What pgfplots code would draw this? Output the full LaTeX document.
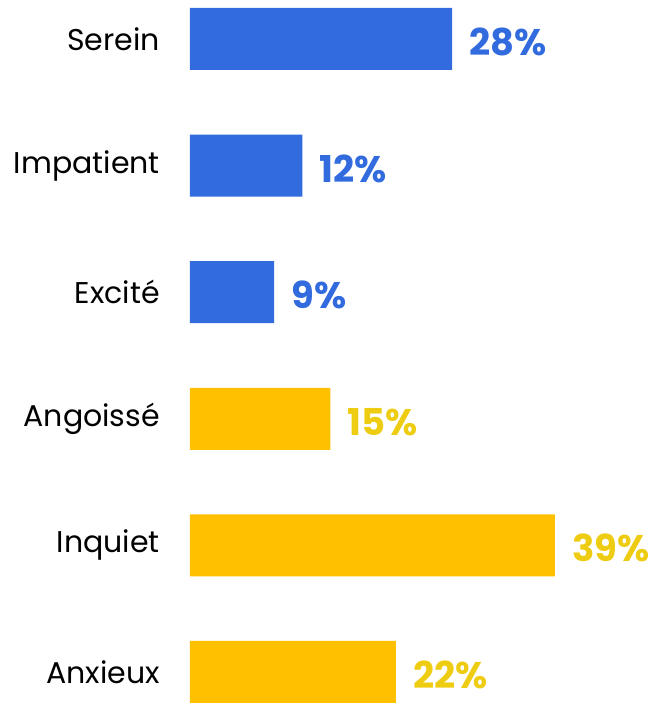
\documentclass[border=0pt]{standalone}
\usepackage{pgfplots}
\pgfplotsset{compat=1.18}
\usepackage{fontspec}
\setmainfont{Poppins}
\definecolor{calmblue}{HTML}{316BDD}
\definecolor{worrybar}{HTML}{FFC000}
\definecolor{worrytext}{HTML}{EECC11}
\begin{document}
\begin{tikzpicture}
\begin{axis}[
    at={(0,0)}, anchor=south west,
    scale only axis,
    width=365pt, height=703pt,
    xbar, bar width=62pt, bar shift=0pt,
    xmin=0, xmax=39,
    ymin=-0.245, ymax=5.308,
    clip=false,
    axis line style={draw=none},
    major tick length=0pt,
    xtick=\empty,
    ytick={0,...,5},
    yticklabels={Anxieux,Inquiet,Angoissé,Excité,Impatient,Serein},
    yticklabel style={font=\fontsize{30}{35}\selectfont, text=black, inner sep=0pt, xshift=-30pt},
    /pgf/number format/assume math mode=true,
    nodes near coords={\pgfmathprintnumber{\pgfplotspointmeta}\%},
    every node near coord/.append style={font=\fontsize{37}{43}\selectfont\bfseries, inner sep=0pt, xshift=17pt, yshift=-3pt},
]
\addplot[fill=calmblue, draw=none, every node near coord/.append style={text=calmblue}]
    coordinates {(28,5) (12,4) (9,3)};
\addplot[fill=worrybar, draw=none, every node near coord/.append style={text=worrytext}]
    coordinates {(15,2) (39,1) (22,0)};
\end{axis}
\pgfresetboundingbox
\useasboundingbox (-190pt,0pt) rectangle (464pt,703pt);
\end{tikzpicture}
\end{document}
